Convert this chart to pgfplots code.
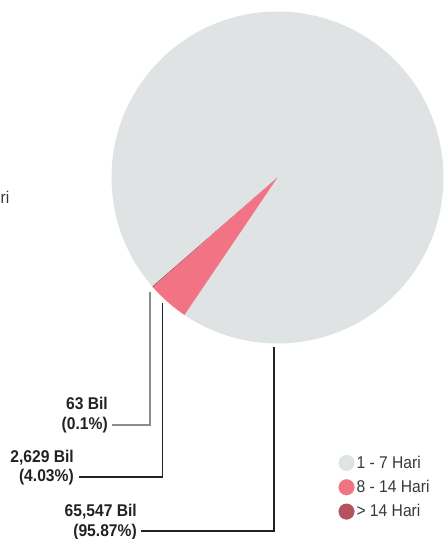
\documentclass[border=0pt]{standalone}
\usepackage{pgfplots}
\pgfplotsset{compat=1.18}
\usepackage{pgfplotstable}
\usepackage{fontspec}
\setmainfont{Liberation Sans}[FakeStretch=0.92]
\definecolor{cA}{HTML}{DFE3E3}
\definecolor{cB}{HTML}{B4525E}
\definecolor{cC}{HTML}{F27384}
\definecolor{txt}{HTML}{222222}
\pgfplotstableread{
label value
a 95.87
b 0.1
c 4.03
}\piedata
\begin{document}%
\pgfplotstablegetelem{0}{value}\of\piedata\let\vA\pgfplotsretval%
\pgfplotstablegetelem{1}{value}\of\piedata\let\vB\pgfplotsretval%
\pgfplotstablegetelem{2}{value}\of\piedata\let\vC\pgfplotsretval%
\pgfmathsetmacro\sA{235.9}%
\pgfmathsetmacro\eA{\sA+3.6*\vA}%
\pgfmathsetmacro\eB{\eA+3.6*\vB}%
\pgfmathsetmacro\eC{\eB+3.6*\vC}%
\begin{tikzpicture}
\begin{axis}[width=444pt,height=539pt,scale only axis,
  xmin=0,xmax=444,ymin=0,ymax=539,y dir=reverse,
  axis lines=none,clip=false,
  legend style={draw=none,fill=none,at={(0.762,0.158)},anchor=north west,
    font=\fontsize{17}{20}\selectfont,row sep=6.5pt,inner sep=0pt,
    text=txt!90,cells={anchor=west}},
  legend cell align=left]
\addplot[fill=cA,draw=none,domain=\sA:\eA,samples=200,variable=\t,forget plot]
  ({277.5+166*cos(\t)},{177.5-166*sin(\t)}) -- (axis cs:277.5,177.5) -- cycle;
\addplot[fill=cB,draw=none,domain=\eA:\eB,samples=5,variable=\t,forget plot]
  ({277.5+166*cos(\t)},{177.5-166*sin(\t)}) -- (axis cs:277.5,177.5) -- cycle;
\addplot[fill=cC,draw=none,domain=\eB:\eC,samples=30,variable=\t,forget plot]
  ({277.5+166*cos(\t)},{177.5-166*sin(\t)}) -- (axis cs:277.5,177.5) -- cycle;
% leader lines
\addplot[draw=gray!90,line width=1.4pt,forget plot] coordinates {(150,292) (150,425) (112,425)};
\addplot[draw=txt,line width=1.2pt,forget plot] coordinates {(162.7,303) (162.7,477) (79,477)};
\addplot[draw=txt,line width=1.2pt,forget plot] coordinates {(274,347) (274,531) (141,531)};
% labels
\node[anchor=east,align=right,inner sep=0pt,text=txt,font=\bfseries\fontsize{17}{19.5}\selectfont] at (axis cs:108,415) {63 Bil\\(0.1\%)};
\node[anchor=east,align=right,inner sep=0pt,text=txt,font=\bfseries\fontsize{17}{19.5}\selectfont] at (axis cs:74,467.5) {2,629 Bil\\(4.03\%)};
\node[anchor=east,align=right,inner sep=0pt,text=txt,font=\bfseries\fontsize{17}{19.5}\selectfont] at (axis cs:137,522) {65,547 Bil\\(95.87\%)};
\node[anchor=east,inner sep=0pt,text=txt!90,font=\fontsize{17}{19.5}\selectfont] at (axis cs:9.5,197) {ri};
% legend
\addlegendimage{legend image code/.code={\fill[cA] (6pt,0pt) circle (7.8pt);}}
\addlegendentry{1 - 7 Hari}
\addlegendimage{legend image code/.code={\fill[cC] (6pt,0pt) circle (7.8pt);}}
\addlegendentry{8 - 14 Hari}
\addlegendimage{legend image code/.code={\fill[cB] (6pt,0pt) circle (7.8pt);}}
\addlegendentry{> 14 Hari}
\end{axis}
\pgfresetboundingbox
\path (current axis.south west) rectangle (current axis.north east);
\end{tikzpicture}%
\end{document}
